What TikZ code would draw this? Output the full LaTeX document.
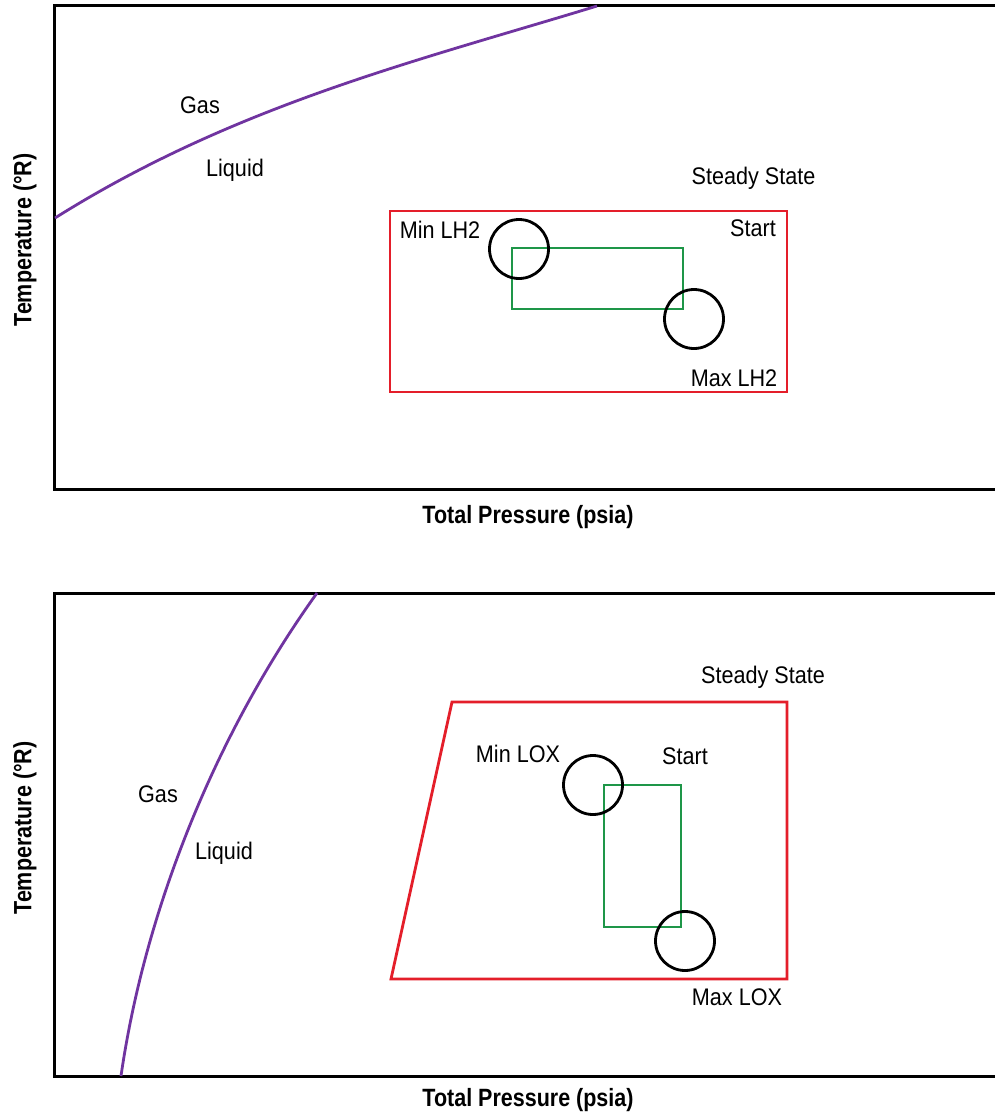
\documentclass[tikz,border=0pt]{standalone}
\usepackage{fontspec}
\setmainfont{Liberation Sans}[FakeStretch=0.9]
\newfontfamily\axisfont{Liberation Sans}[FakeStretch=0.86]
\definecolor{phase}{RGB}{112,52,160}
\definecolor{ssred}{RGB}{228,30,42}
\definecolor{stgreen}{RGB}{30,150,72}
\begin{document}
\begin{tikzpicture}[x=1pt,y=-1pt,
  frame/.style={draw=black,line width=3pt},
  phaseline/.style={draw=phase,line width=2.8pt},
  ssbox/.style={draw=ssred,line width=2.8pt},
  stbox/.style={draw=stgreen,line width=2.8pt},
  lim/.style={draw=black,line width=2.8pt},
  lbl/.style={font=\fontsize{24}{28}\selectfont,inner sep=0pt},
  axlbl/.style={font=\axisfont\bfseries\fontsize{25}{29}\selectfont,inner sep=0pt}]
\useasboundingbox (0,0) rectangle (995,1116);
\fill[white] (0,0) rectangle (995,1116);

% ---------- top chart (LH2) ----------
\draw[frame] (1010,6) -- (54,6) -- (54,489) -- (1010,489);
\draw[phaseline] (55,218) .. controls (235,105) and (417,61) .. (597,6);
\node[lbl] (gas1) at (200,105) {Gas};
\node[lbl] (liq1) at (235,170) {Liquid};
\draw[ssbox] (390,211) rectangle (787,392);
\draw[stbox] (512,248) rectangle (683,309);
\draw[lim] (519,249) circle (29.5);
\draw[lim] (694,319) circle (29.5);
\node[lbl] (ss1) at (753.5,178) {Steady State};
\node[lbl] (min1) at (440,230) {Min LH2};
\node[lbl] (st1) at (753,228) {Start};
\node[lbl] (max1) at (734,378) {Max LH2};
\node[axlbl] (xl1) at (528,517) {Total Pressure (psia)};
\node[axlbl,rotate=90] (yl1) at (25,240) {Temperature (°R)};

% ---------- bottom chart (LOX) ----------
\draw[frame] (1010,593) -- (54,593) -- (54,1076) -- (1010,1076);
\draw[phaseline] (121,1076) .. controls (145,910) and (215,735) .. (317,593);
\node[lbl] (gas2) at (158,794) {Gas};
\node[lbl] (liq2) at (224,853) {Liquid};
\draw[ssbox] (452,702) -- (787,702) -- (787,979) -- (391,979) -- cycle;
\draw[stbox] (604,785) rectangle (681,927);
\draw[lim] (593,785) circle (29.5);
\draw[lim] (685,941) circle (29.5);
\node[lbl] (ss2) at (763,677) {Steady State};
\node[lbl] (min2) at (518,754) {Min LOX};
\node[lbl] (st2) at (685,756) {Start};
\node[lbl] (max2) at (737,997) {Max LOX};
\node[axlbl] (xl2) at (528,1100) {Total Pressure (psia)};
\node[axlbl,rotate=90] (yl2) at (25,828) {Temperature (°R)};
\end{tikzpicture}
\end{document}
